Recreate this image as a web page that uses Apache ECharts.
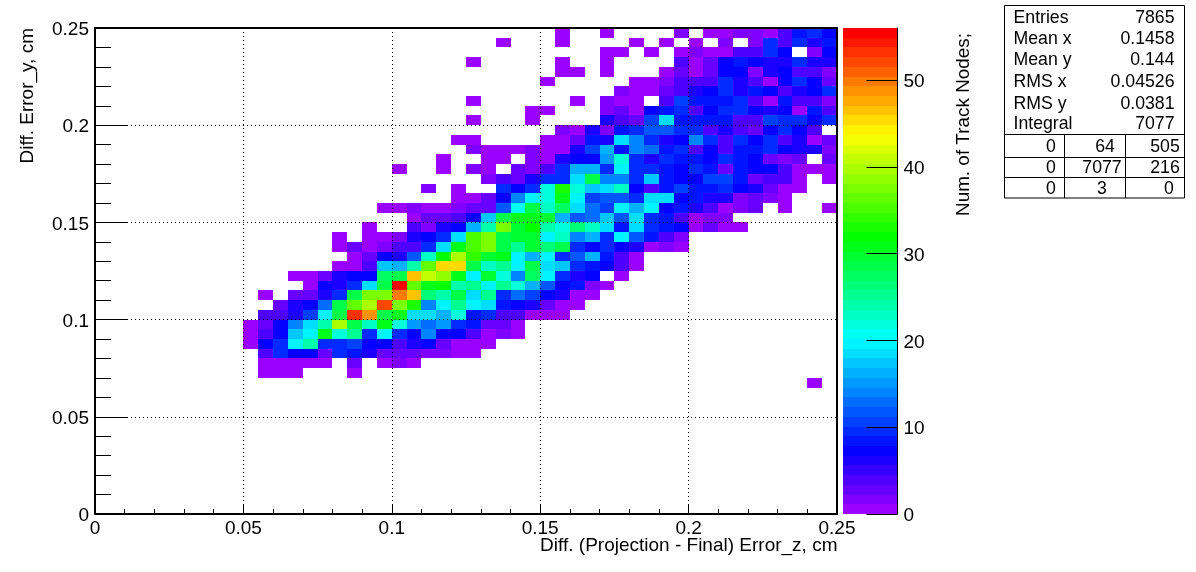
<!DOCTYPE html>
<html>
<head>
<meta charset="utf-8">
<script src="https://cdn.jsdelivr.net/npm/echarts@6/dist/echarts.min.js"></script>
<style>html,body{margin:0;padding:0;background:#fff}#c{width:1196px;height:572px}</style>
</head>
<body>
<div id="c"></div>
<script>
// Histogram: 50 x 50 bins over 0..0.25 on both axes
const binCount = 50;
const axisMax = 0.25;
const zMax = 56;
// lowest y-bin index of first row; rows go downward
const topRow = 49;
// first occupied x-bin of each row
const rowStart = [31,27,34,25,31,30,35,25,29,25,31,24,25,23,20,26,22,24,19,21,18,16,16,17,16,13,14,11,12,11,10,10,10,11,11,11];
// counts in each row from the first occupied bin
const rowCounts = [
[1,0,0,1,0,0,0,0,2,0,1,1,2,2,1,4,8,9,7],
[1,0,0,0,1,0,0,0,0,1,0,1,0,1,0,2,0,2,9,4,9,6,8],
[1,1,0,1,0,1,2,1,1,4,4,9,7,0,2,7],
[1,0,0,0,0,0,1,0,0,1,0,0,0,0,4,1,3,7,8,7,6,6,9,6,6],
[1,1,0,1,0,0,0,1,3,1,3,7,7,2,6,7,4,4,2],
[1,0,0,0,0,0,1,1,2,4,4,4,9,6,4,1,7,9,7,3],
[2,1,1,3,4,6,7,9,6,8,7,4,6,7,9],
[1,0,0,0,0,0,0,1,0,2,1,1,0,4,11,8,8,8,9,4,1,8,4,4,2],
[1,1,0,0,0,2,3,1,7,8,9,4,7,9,9,7,6,7,1,8,4],
[1,0,0,0,1,0,0,0,0,6,4,3,11,19,8,8,8,8,4,4,11,9,9,7,9],
[2,1,6,2,8,9,12,12,9,9,4,6,4,3,7,9,7,4],
[1,1,0,0,0,0,1,1,3,8,6,18,14,9,6,7,14,9,4,9,7,9,4,6,1,3],
[2,1,1,1,2,1,1,6,11,16,8,14,13,8,9,4,7,4,8,8,9,7,6,6,2],
[1,0,0,1,1,0,2,1,6,7,7,15,22,9,6,9,8,8,7,9,8,7,3,2,3,0,3],
[1,0,0,1,0,2,1,0,3,2,4,9,16,16,10,20,9,10,8,7,10,8,3,8,7,7,4,1,1,1],
[2,4,3,6,10,10,18,29,14,14,9,17,8,7,7,11,11,8,3,4,4,1,0,1],
[2,0,1,0,0,9,7,9,22,33,22,17,19,23,7,4,8,11,8,8,9,7,6,3,1,1],
[1,1,3,7,14,20,22,31,20,11,12,12,9,18,18,7,8,6,6,2,3,2,1],
[1,1,2,1,1,2,3,3,12,21,28,23,27,19,13,11,20,16,20,7,8,6,4,1,2,3,0,1,0,0,1],
[1,3,3,4,7,17,29,31,31,30,16,12,13,17,12,19,9,8,4,1,2,2],
[1,0,0,4,2,6,7,16,24,38,30,32,24,22,26,23,19,8,19,10,8,7,1,3,1,1],
[1,0,1,1,2,6,7,9,19,35,38,28,30,30,20,23,14,16,9,20,12,8,4,2],
[1,3,1,2,4,4,9,19,31,35,37,29,25,30,26,28,9,7,9,7,6,1,2,1],
[1,3,7,6,12,23,32,40,34,30,31,20,16,20,9,12,16,8,4,1],
[1,1,4,17,16,24,36,45,45,29,23,25,20,29,19,17,9,8,7,4,1],
[1,1,3,6,7,7,27,28,46,41,39,31,20,30,22,14,27,20,10,6,7,0,1],
[1,7,6,9,18,28,56,36,31,32,24,25,20,25,22,16,12,7,8,2,1],
[1,0,3,3,6,9,29,37,37,50,46,26,24,29,19,25,9,13,11,7,6,1,1],
[3,6,7,13,29,36,40,52,37,33,14,20,25,20,18,8,7,6,3,1,1],
[4,4,6,11,20,29,53,49,29,31,18,18,16,22,8,10,4,4,1,1,1],
[1,3,7,14,18,24,40,29,23,31,22,15,13,15,10,8,3,3,1],
[1,4,7,17,20,31,22,25,9,20,9,7,14,7,7,4,1,2,1],
[1,7,10,20,24,9,9,11,7,7,4,6,7,3,1,1,1],
[4,9,7,7,3,9,8,6,3,3,3,2,2,1,1],
[1,1,1,1,1,0,3,0,1,2,1],
[1,1,1,0,0,0,1]
];
// the lone outlying bin
const outlierBin = [48, 13, 1];

const xTitle = 'Diff. (Projection - Final) Error_z, cm';
const yTitle = 'Diff. Error_y, cm';
const zTitle = 'Num. of Track Nodes;';
const zTicks = [0,10,20,30,40,50];
const statNames = ['Entries','Mean x','Mean y','RMS x','RMS y','Integral'];
const statValues = ['7865','0.1458','0.144','0.04526','0.0381','7077'];
const overflowRows = [['0','64','505'],['0','7077','216'],['0','3','0']];

// palette: 50 steps across the rainbow
const levels = 50;
const stops = [[0,[153,0,255]],[0.125,[0,0,255]],[0.357,[0,255,255]],[0.571,[0,255,0]],[0.786,[255,255,0]],[1,[255,0,0]]];
function paletteColor(f){
  for(let i=1;i<stops.length;i++){
    if(f<=stops[i][0]){
      const a=stops[i-1],b=stops[i],t=(f-a[0])/(b[0]-a[0]);
      return 'rgb('+a[1].map((v,j)=>Math.round(v+(b[1][j]-v)*t)).join(',')+')';
    }
  }
  return 'rgb(255,0,0)';
}
const pieces=[];
const barData=[];
for(let i=0;i<levels;i++){
  const lo=i*zMax/levels, hi=(i+1)*zMax/levels;
  pieces.push({gte:lo, lt:i===levels-1?zMax+1:hi, color:paletteColor(i/(levels-1))});
  barData.push([lo,hi,(lo+hi)/2]);
}

const binW = axisMax/binCount;
const cellData=[];
rowCounts.forEach((row,r)=>{
  row.forEach((v,i)=>{
    if(v>0) cellData.push([(rowStart[r]+i)*binW,(topRow-r)*binW,v]);
  });
});
cellData.push([outlierBin[0]*binW,outlierBin[1]*binW,outlierBin[2]]);

function renderCell(params,api){
  const x=api.value(0),y=api.value(1);
  const a=api.coord([x,y+binW]), b=api.coord([x+binW,y]);
  const x0=Math.round(a[0]),y0=Math.round(a[1]),x1=Math.round(b[0]),y1=Math.round(b[1]);
  return {type:'rect',shape:{x:x0,y:y0,width:x1-x0,height:y1-y0},style:{fill:api.visual('color')}};
}
function renderBar(params,api){
  const a=api.coord([0,api.value(1)]), b=api.coord([1,api.value(0)]);
  const y0=Math.round(a[1]),y1=Math.round(b[1]);
  return {type:'rect',shape:{x:a[0],y:y0,width:b[0]-a[0],height:y1-y0},style:{fill:api.visual('color')}};
}

const font='"Liberation Sans", Arial, Helvetica, sans-serif';
const black='#000';
// rich label with extra room on top: nudges the tick text down to sit as in the reference
const nudged={formatter:'{a|{value}}',rich:{a:{color:black,fontFamily:font,fontSize:19,padding:[4,0,0,0]}}};
const lineOnly=(extra)=>Object.assign({type:'value',min:0,max:axisMax,gridIndex:0,z:5,
  axisLine:{show:true,onZero:false,lineStyle:{color:black,width:2}},axisTick:{show:false},axisLabel:{show:false},splitLine:{show:false}},extra);
const mainAxis=(extra,major,minor,labelExtra)=>Object.assign({type:'value',min:0,max:axisMax,interval:0.05,gridIndex:0,z:5,
  axisLine:{show:true,onZero:false,lineStyle:{color:black,width:2}},
  axisTick:{show:true,inside:true,length:major,lineStyle:{color:black,width:1}},
  minorTick:{show:true,splitNumber:5,length:minor,lineStyle:{color:black,width:1}},
  splitLine:{show:true,lineStyle:{color:black,width:1,type:[1,3]}},
  axisLabel:Object.assign({color:black,fontFamily:font,fontSize:19,showMinLabel:true,showMaxLabel:true},labelExtra)},extra);

const graphics=[];
const txt=(x,y,text,size,align,rot)=>graphics.push({type:'text',x:x,y:y,rotation:rot||0,z:20,
  style:{text:text,fill:black,font:size+'px '+font,textAlign:align,textVerticalAlign:'middle'}});
const seg=(x1,y1,x2,y2)=>graphics.push({type:'line',z:20,shape:{x1:x1,y1:y1,x2:x2,y2:y2},style:{stroke:black,lineWidth:1}});

txt(837.5,545.5,xTitle,19,'right');
txt(27.5,28,yTitle,19,'right',Math.PI/2);
txt(963.5,33,zTitle,18.9,'right',Math.PI/2);

// statistics box
graphics.push({type:'rect',z:19,shape:{x:1004.5,y:5.5,width:180,height:192.5},style:{fill:'#fff',stroke:black,lineWidth:1}});
const statY=[18,39,60.5,82,104,124.5];
statNames.forEach((n,i)=>{txt(1013.5,statY[i],n,17.7,'left');txt(1174.5,statY[i],statValues[i],17.7,'right');});
seg(1004.5,134.5,1184.5,134.5);seg(1004.5,157.5,1184.5,157.5);seg(1004.5,177.5,1184.5,177.5);
seg(1064.5,134.5,1064.5,198);seg(1125.5,134.5,1125.5,198);
const tblY=[147,168.5,189];
const tblX=[[1051,1105,1165],[1051,1102,1165],[1051,1102,1169]];
overflowRows.forEach((r,i)=>r.forEach((t,j)=>txt(tblX[i][j],tblY[i],t,17.7,'center')));

const chart=echarts.init(document.getElementById('c'),null,{renderer:'canvas',width:1196,height:572});
chart.setOption({
  animation:false,
  backgroundColor:'#fff',
  grid:[
    {left:95,top:28,width:742,height:486,containLabel:false},
    {left:843,top:28,width:54.5,height:486,containLabel:false}
  ],
  xAxis:[
    mainAxis({position:'bottom'},10,5,{margin:5}),
    lineOnly({position:'top'}),
    {type:'value',gridIndex:1,min:0,max:1,show:false}
  ],
  yAxis:[
    mainAxis({position:'left'},32,16,Object.assign({margin:6},nudged)),
    lineOnly({position:'right'}),
    {type:'value',gridIndex:1,position:'right',min:0,max:zMax,z:5,
     axisLine:{show:true,onZero:false,lineStyle:{color:black,width:1}},
     axisTick:{show:true,inside:true,length:31,customValues:zTicks,lineStyle:{color:black,width:1}},
     axisLabel:Object.assign({color:black,fontFamily:font,fontSize:19,margin:6,customValues:zTicks},nudged),
     splitLine:{show:false}}
  ],
  visualMap:[{type:'piecewise',show:false,seriesIndex:[0,1],dimension:2,pieces:pieces}],
  series:[
    {type:'custom',name:'counts',coordinateSystem:'cartesian2d',xAxisIndex:0,yAxisIndex:0,z:2,clip:true,
     renderItem:renderCell,encode:{x:0,y:1},dimensions:['x','y','count'],data:cellData},
    {type:'custom',name:'palette',coordinateSystem:'cartesian2d',xAxisIndex:2,yAxisIndex:2,z:2,
     renderItem:renderBar,encode:{y:[0,1]},dimensions:['lo','hi','mid'],data:barData}
  ],
  graphic:{elements:graphics}
});
</script>
</body>
</html>
